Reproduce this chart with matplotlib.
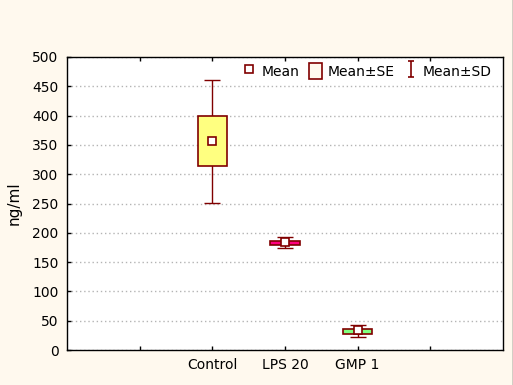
import numpy as np
import matplotlib.pyplot as plt
from matplotlib.patches import Rectangle, Patch
from matplotlib.lines import Line2D
from matplotlib.path import Path

groups = ["Control", "LPS 20", "GMP 1"]
means = [357, 184, 34]
se_low = [314, 179, 28]
se_high = [399, 186, 35]
sd_low = [251, 174, 23]
sd_high = [461, 192, 42]
box_colors = ["#FFFF80", "#FF0080", "#80FF80"]

edge = "#800000"
bg = "#FFF9EE"

plt.rcParams['font.family'] = ['DejaVu Sans']
plt.rcParams['font.size'] = 10

fig = plt.figure(figsize=(5.13, 3.85), dpi=100, facecolor=bg)
ax = fig.add_axes([67/513, 35/385, 436/513, 293/385])

pos = np.arange(len(groups)) + 2
means = np.array(means)
yerr = [means - np.array(sd_low), np.array(sd_high) - means]
ax.errorbar(pos, means, yerr=yerr, fmt='none', ecolor=edge, elinewidth=1,
            capsize=5.8, capthick=1, zorder=2)

for x, lo, hi, c in zip(pos, se_low, se_high, box_colors):
    ax.add_patch(Rectangle((x - 0.2, lo), 0.4, hi - lo, facecolor=c,
                           edgecolor=edge, lw=1.2, zorder=3))

ax.plot(pos, means, 's', ms=6, mfc='white', mec=edge, mew=1.2, ls='none', zorder=4)

ax.set_xlim(0, 6)
ax.set_ylim(0, 500)
ax.set_xticks([1, 2, 3, 4, 5])
ax.set_xticklabels([''] + groups + [''])
ax.set_yticks(np.arange(0, 501, 50))
ax.tick_params(direction='in', length=3, width=1, top=True, right=False, pad=6)
ax.set_ylabel("ng/ml", labelpad=8, fontsize=11)

ax.set_axisbelow(True)
ax.yaxis.grid(True, linestyle=(0, (1, 2)), color='#B4B4B4', lw=1)
for s in ax.spines.values():
    s.set_color('black')
    s.set_linewidth(1)

# legend
sd_marker = Path([(-0.4, 1), (0.4, 1), (0, 1), (0, -1), (-0.4, -1), (0.4, -1)],
                 [Path.MOVETO, Path.LINETO, Path.MOVETO, Path.LINETO, Path.MOVETO, Path.LINETO])
handles = [
    Line2D([], [], marker='s', ms=6, mfc='white', mec=edge, mew=1.2, ls='none'),
    Patch(facecolor=bg, edgecolor=edge, lw=1.2),
    Line2D([], [], marker=sd_marker, ms=11, mec=edge, mew=1.2, ls='none'),
]
ax.legend(handles, ["Mean", "Mean±SE", "Mean±SD"], loc='center right',
          bbox_to_anchor=(0.975, 0.952), ncol=3, frameon=False,
          handlelength=0.95, handleheight=1.35, handletextpad=0.4,
          columnspacing=0.7, borderpad=0, borderaxespad=0)

fig.add_artist(Line2D([1 - 0.5/513] * 2, [0, 1], transform=fig.transFigure,
                      color='#202020', lw=1))

fig.savefig("out.png", dpi=100, facecolor=bg)
